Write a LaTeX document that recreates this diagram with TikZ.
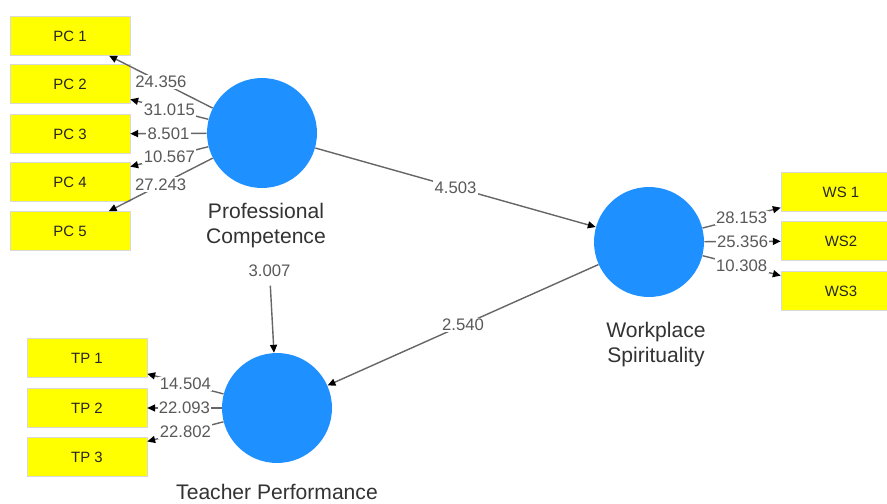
\documentclass[tikz,border=0pt]{standalone}
\usepackage{fontspec}
\setmainfont{Liberation Sans}
\usetikzlibrary{shapes,arrows.meta,positioning}
\definecolor{lvblue}{RGB}{30,144,255}
\definecolor{mvyellow}{RGB}{255,255,0}

\begin{document}
\begin{tikzpicture}[x=0.02cm,y=-0.02cm,
latent/.style={
% The shape:
circle,
% The size:
minimum size=2.2cm, inner sep=0pt,
% The filling:
fill=lvblue, draw=none
},
indicator/.style={
% The shape:
rectangle,
% The size:
minimum width=2.4cm, minimum height=0.78cm,
% The border:
draw=black!15, line width=0.3pt,
% The filling:
fill=mvyellow,
% Font
font=\fontsize{8.5}{10}\selectfont, text=black!85
},
construct/.style={
align=center, fill=white, inner sep=4pt,
font=\fontsize{12}{14.2}\selectfont, text=black!80},
weight/.style={
fill=white, inner sep=0.8pt,
font=\fontsize{9.5}{11}\selectfont, text=black!65},
link/.style={
draw=black!60, line width=0.8pt,
-{Triangle[length=4.5pt,width=4pt,color=black,fill=black]}}
]
\useasboundingbox (0,0) rectangle (887,504);

% latent variables
\node (pc) [latent] at (262,133) {};
\node (ws) [latent] at (649,242) {};
\node (tp) [latent] at (277,408) {};

% indicators
\node (pc1) [indicator] at (70,36) {PC 1};
\node (pc2) [indicator] at (70,84) {PC 2};
\node (pc3) [indicator] at (70,134) {PC 3};
\node (pc4) [indicator] at (70,182) {PC 4};
\node (pc5) [indicator] at (70,231) {PC 5};

\node (ws1) [indicator] at (841,192) {WS 1};
\node (ws2) [indicator] at (841,241) {WS2};
\node (ws3) [indicator] at (841,291) {WS3};

\node (tp1) [indicator] at (87,358) {TP 1};
\node (tp2) [indicator] at (87,408) {TP 2};
\node (tp3) [indicator] at (87,457) {TP 3};

% outer model
\path (pc) edge[link] node[weight] {24.356} (pc1);
\path (pc) edge[link] node[weight] {31.015} (pc2);
\path (pc) edge[link] node[weight] {8.501} (pc3);
\path (pc) edge[link] node[weight] {10.567} (pc4);
\path (pc) edge[link] node[weight] {27.243} (pc5);

\path (ws) edge[link] node[weight] {28.153} (ws1);
\path (ws) edge[link] node[weight] {25.356} (ws2);
\path (ws) edge[link] node[weight] {10.308} (ws3);

\path (tp) edge[link] node[weight] {14.504} (tp1);
\path (tp) edge[link] node[weight] {22.093} (tp2);
\path (tp) edge[link] node[weight] {22.802} (tp3);

% inner model
\path (pc) edge[link] node[weight] {4.503} (ws);
\path (pc) edge[link, shorten <=1.95cm] node[weight] {3.007} (tp);
\path (ws) edge[link] node[weight] {2.540} (tp);

% construct names
\node (pcname) [construct] at (266,226) {Professional\\Competence};
\node (wsname) [construct] at (656,345) {Workplace\\Spirituality};
\node (tpname) [construct] at (277,492) {Teacher Performance};
\end{tikzpicture}
\end{document}
